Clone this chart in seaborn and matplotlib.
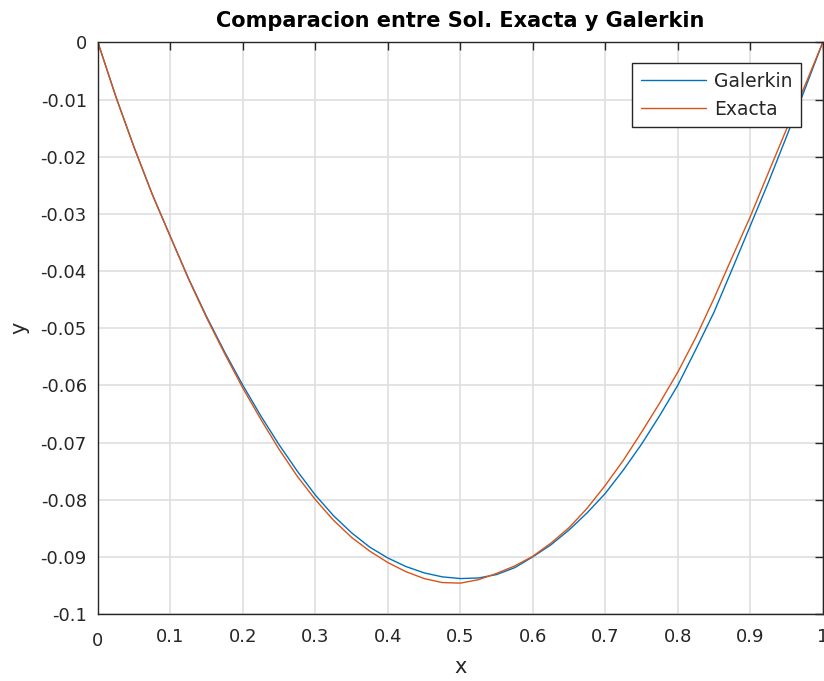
import matplotlib
matplotlib.use("Agg")
import matplotlib.pyplot as plt
import matplotlib.transforms as mtransforms
import seaborn as sns
import pandas as pd

# Solution values on a uniform grid in x (step 0.025)
x_vals = [0.000, 0.025, 0.050, 0.075, 0.100, 0.125, 0.150, 0.175, 0.200, 0.225,
          0.250, 0.275, 0.300, 0.325, 0.350, 0.375, 0.400, 0.425, 0.450, 0.475,
          0.500, 0.525, 0.550, 0.575, 0.600, 0.625, 0.650, 0.675, 0.700, 0.725,
          0.750, 0.775, 0.800, 0.825, 0.850, 0.875, 0.900, 0.925, 0.950, 0.975,
          1.000]
galerkin = [0.0, -0.0096, -0.0184, -0.0266, -0.0340, -0.0413, -0.0480, -0.0542,
            -0.0600, -0.0654, -0.0704, -0.0750, -0.0792, -0.0828, -0.0858,
            -0.0883, -0.0902, -0.0917, -0.0928, -0.0935, -0.0938, -0.0937,
            -0.0931, -0.0919, -0.0900, -0.0879, -0.0853, -0.0823, -0.0789,
            -0.0748, -0.0703, -0.0653, -0.0600, -0.0537, -0.0472, -0.0397,
            -0.0321, -0.0245, -0.0165, -0.0083, 0.0]
exacta = [0.0, -0.0096, -0.0184, -0.0266, -0.0340, -0.0414, -0.0482, -0.0545,
          -0.0605, -0.0660, -0.0712, -0.0759, -0.0800, -0.0836, -0.0866,
          -0.0890, -0.0910, -0.0926, -0.0938, -0.0945, -0.0946, -0.0940,
          -0.0929, -0.0916, -0.0899, -0.0876, -0.0849, -0.0815, -0.0775,
          -0.0731, -0.0682, -0.0631, -0.0577, -0.0516, -0.0448, -0.0376,
          -0.0305, -0.0228, -0.0152, -0.0077, 0.0]
series_names = ["Galerkin", "Exacta"]
series_colors = ["#0072BD", "#D95319"]

x_ticks = [0, 0.1, 0.2, 0.3, 0.4, 0.5, 0.6, 0.7, 0.8, 0.9, 1]
x_tick_labels = ["0", "0.1", "0.2", "0.3", "0.4", "0.5", "0.6", "0.7", "0.8", "0.9", "1"]
y_ticks = [-0.1, -0.09, -0.08, -0.07, -0.06, -0.05, -0.04, -0.03, -0.02, -0.01, 0]
y_tick_labels = ["-0.1", "-0.09", "-0.08", "-0.07", "-0.06", "-0.05", "-0.04",
                 "-0.03", "-0.02", "-0.01", "0"]

df = pd.DataFrame({
    "x": x_vals * 2,
    "y": galerkin + exacta,
    "serie": [series_names[0]] * len(x_vals) + [series_names[1]] * len(x_vals),
})

sns.set_theme(style="white")
plt.rcParams["font.family"] = ["DejaVu Sans"]

fig = plt.figure(figsize=(8.24, 6.81), dpi=100)
ax = fig.add_axes([0.1189, 0.0984, 0.8795, 0.8392])

sns.lineplot(data=df, x="x", y="y", hue="serie", hue_order=series_names,
             palette=series_colors, estimator=None, sort=False,
             linewidth=1.0, ax=ax)

ax.set_xlim(0, 1)
ax.set_ylim(-0.1, 0)
ax.set_xticks(x_ticks)
ax.set_xticklabels(x_tick_labels)
ax.set_yticks(y_ticks)
ax.set_yticklabels(y_tick_labels)

ax.grid(True, color="#dfdfdf", linewidth=1.2)
ax.set_axisbelow(True)
for side in ["left", "right", "top", "bottom"]:
    ax.spines[side].set_visible(True)
    ax.spines[side].set_color("#262626")
    ax.spines[side].set_linewidth(1.0)

ax.tick_params(axis="both", which="major", direction="in", length=6, width=1.0,
               color="#262626", labelcolor="#262626", labelsize=13,
               top=True, right=True)
ax.tick_params(axis="x", pad=10)
ax.tick_params(axis="y", pad=8)

# the origin label sits a little lower than the other x labels
origin_label = ax.get_xticklabels()[0]
origin_label.set_transform(origin_label.get_transform() +
                           mtransforms.ScaledTranslation(0, -3 / 72, fig.dpi_scale_trans))

ax.set_xlabel("x", fontsize=15, color="#262626", labelpad=5)
ax.set_ylabel("y", fontsize=15, color="#262626", labelpad=8)
ax.set_title("Comparacion entre Sol. Exacta y Galerkin", fontsize=15,
             fontweight="bold", color="black", pad=11)

leg = ax.legend(loc="upper right", bbox_to_anchor=(0.9697, 0.964), fontsize=13.5,
                frameon=True, fancybox=False, shadow=False, framealpha=1,
                handlelength=3.5, handletextpad=0.4, borderpad=0.45,
                labelspacing=0.5, borderaxespad=0)
leg.get_frame().set_edgecolor("#262626")
leg.get_frame().set_linewidth(1.0)
for t in leg.get_texts():
    t.set_color("#262626")

fig.savefig("out.png", dpi=100)
